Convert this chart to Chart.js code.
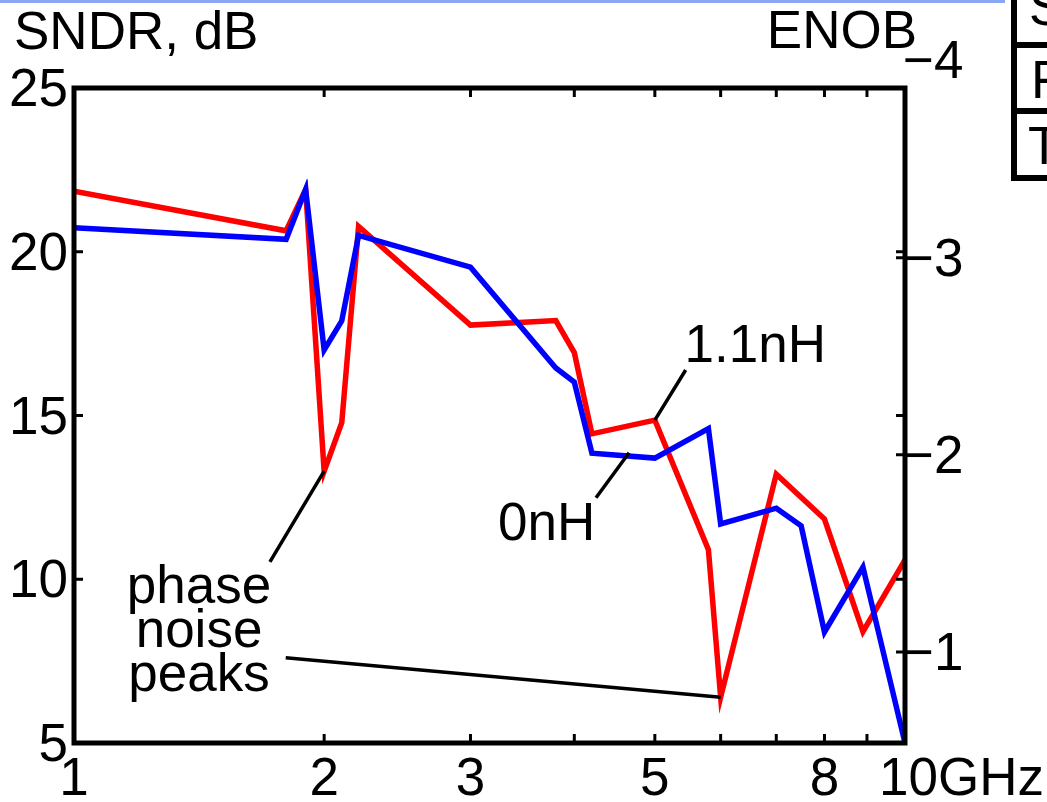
<!DOCTYPE html>
<html>
<head>
<meta charset="utf-8">
<script src="https://cdn.jsdelivr.net/npm/chart.js@4.4.1/dist/chart.umd.min.js"></script>
<style>
  html, body { margin: 0; padding: 0; background: #fff; }
  #wrap { width: 1047px; height: 802px; position: relative; }
</style>
</head>
<body>
<div id="wrap"><canvas id="chart" width="1047" height="802"></canvas></div>
<script>
// SNDR vs input frequency, 1.1nH (red) and 0nH (blue)
const redFreq = [1, 1.8, 1.9, 2.0, 2.1, 2.2, 3.0, 3.8, 4.0, 4.2, 5.0, 5.8, 6.0, 7.0, 8.0, 8.9, 10];
const redSndr = [21.85, 20.64, 21.9, 13.3, 14.78, 20.77, 17.76, 17.9, 16.92, 14.44, 14.86, 10.9, 6.4, 13.21, 11.84, 8.4, 10.59];
const blueFreq = [1, 1.8, 1.9, 2.0, 2.1, 2.2, 3.0, 3.8, 4.0, 4.2, 5.0, 5.8, 6.0, 7.0, 7.5, 8.0, 8.9, 10];
const blueSndr = [20.73, 20.38, 21.9, 17.0, 17.89, 20.5, 19.53, 16.45, 16.02, 13.85, 13.7, 14.6, 11.69, 12.17, 11.63, 8.39, 10.37, 5.0];

const xMinor = [2, 3, 4, 5, 6, 7, 8, 9];
const xLabels = [1, 2, 3, 5, 8, 10];
const yTicks = [25, 20, 15, 10, 5];
const yInnerTicks = [20, 15, 10];
const enobTicks = [1, 2, 3];
const enobLabels = [1, 2, 3, 4];

const SNDR_MIN = 5, SNDR_MAX = 25;
const enob = (s) => (s - 1.76) / 6.02;

const FONT = "53px 'Liberation Sans', Arial, sans-serif";

const toPoints = (xs, ys) => xs.map((x, i) => ({ x, y: ys[i] }));

const decor = {
  id: "decor",
  afterDatasetsDraw(chart) {
    const ctx = chart.ctx;
    const { left, right, top, bottom } = chart.chartArea;
    const x = chart.scales.x, y = chart.scales.y, y1 = chart.scales.y1;
    const px = (f) => x.getPixelForValue(f);
    const py = (s) => y.getPixelForValue(s);
    const tick = 9;

    ctx.save();
    ctx.strokeStyle = "#000";
    ctx.lineCap = "butt";

    // box
    ctx.lineWidth = 5;
    ctx.strokeRect(left, top, right - left, bottom - top);

    // inward ticks
    ctx.lineWidth = 3;
    ctx.beginPath();
    xMinor.forEach((f) => {
      ctx.moveTo(px(f), bottom); ctx.lineTo(px(f), bottom - tick);
      ctx.moveTo(px(f), top); ctx.lineTo(px(f), top + tick);
    });
    yInnerTicks.forEach((s) => {
      ctx.moveTo(left, py(s)); ctx.lineTo(left + tick, py(s));
      ctx.moveTo(right, py(s)); ctx.lineTo(right - tick, py(s));
    });
    enobTicks.forEach((e) => {
      const p = y1.getPixelForValue(e);
      ctx.moveTo(right, p); ctx.lineTo(right - tick, p);
    });
    ctx.stroke();

    // labels
    ctx.fillStyle = "#000";
    ctx.font = FONT;
    ctx.textBaseline = "alphabetic";
    ctx.textAlign = "right";
    yTicks.forEach((s) => ctx.fillText(String(s), left - 6, py(s) + 18));
    ctx.textAlign = "left";
    enobLabels.forEach((e) => ctx.fillText("\u2212" + e, right - 2, y1.getPixelForValue(e) + 18));
    ctx.textAlign = "center";
    xLabels.forEach((f) => {
      if (f === 10) {
        ctx.textAlign = "left";
        ctx.fillText("10GHz", px(f) - 26, 795);
        ctx.textAlign = "center";
      } else {
        ctx.fillText(String(f), px(f), 795);
      }
    });
    ctx.textAlign = "left";
    ctx.fillText("SNDR, dB", 14, 49);
    ctx.textAlign = "right";
    ctx.fillText("ENOB", 917, 48);

    // annotations
    ctx.textAlign = "center";
    ctx.fillText("phase", px(1.414), py(9.27));
    ctx.fillText("noise", px(1.414), py(7.93));
    ctx.fillText("peaks", px(1.414), py(6.59));
    ctx.textAlign = "left";
    ctx.fillText("1.1nH", px(5.43), py(16.63));
    ctx.fillText("0nH", px(3.237), py(11.2));

    ctx.lineWidth = 3.5;
    ctx.beginPath();
    ctx.moveTo(px(1.721), py(10.53)); ctx.lineTo(px(2.0), py(13.3));
    ctx.moveTo(px(1.798), py(7.6)); ctx.lineTo(px(6.0), py(6.4));
    ctx.moveTo(px(5.446), py(16.39)); ctx.lineTo(px(5.0), py(14.86));
    ctx.moveTo(px(4.248), py(12.49)); ctx.lineTo(px(4.655), py(13.86));
    ctx.stroke();

    // faint rule along the top edge
    ctx.strokeStyle = "rgba(110,145,240,0.8)";
    ctx.lineWidth = 3;
    ctx.beginPath();
    ctx.moveTo(0, 1.5); ctx.lineTo(1005, 1.5);
    ctx.stroke();

    // cut-off table at the right
    ctx.strokeStyle = "#000";
    ctx.lineWidth = 6;
    ctx.beginPath();
    ctx.moveTo(1014, 0); ctx.lineTo(1014, 181);
    ctx.moveTo(1011, 45); ctx.lineTo(1047, 45);
    ctx.moveTo(1011, 111); ctx.lineTo(1047, 111);
    ctx.moveTo(1011, 178); ctx.lineTo(1047, 178);
    ctx.stroke();
    ctx.textAlign = "left";
    ctx.fillText("S", 1029, 25);
    ctx.fillText("F", 1031, 98);
    ctx.fillText("T", 1028, 164);
    ctx.restore();
  }
};

new Chart(document.getElementById("chart"), {
  type: "line",
  data: {
    datasets: [
      {
        label: "0nH",
        data: toPoints(blueFreq, blueSndr),
        borderColor: "#0000ff",
        borderWidth: 5.5,
        pointRadius: 0,
        tension: 0,
        fill: false
      },
      {
        label: "1.1nH",
        data: toPoints(redFreq, redSndr),
        borderColor: "#ff0000",
        borderWidth: 5.5,
        pointRadius: 0,
        tension: 0,
        fill: false
      }
    ]
  },
  options: {
    responsive: false,
    animation: false,
    devicePixelRatio: 1,
    layout: { padding: { left: 74, top: 88, right: 142, bottom: 59 } },
    plugins: { legend: { display: false }, tooltip: { enabled: false } },
    scales: {
      x: { type: "logarithmic", min: 1, max: 10, display: false },
      y: { type: "linear", min: SNDR_MIN, max: SNDR_MAX, display: false },
      y1: { type: "linear", position: "right", min: enob(SNDR_MIN), max: enob(SNDR_MAX), display: false }
    }
  },
  plugins: [decor]
});
</script>
</body>
</html>
